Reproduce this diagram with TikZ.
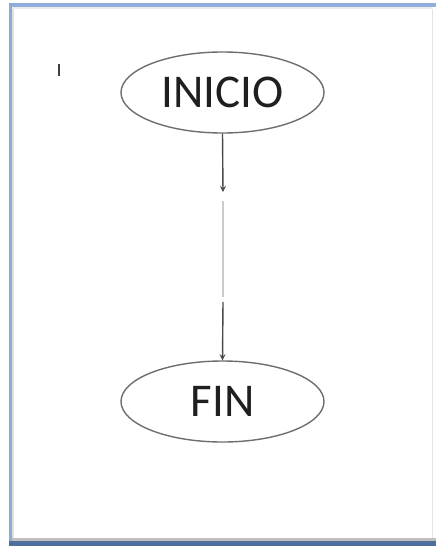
\documentclass[tikz,border=0pt]{standalone}
\usepackage{fontspec}
\setmainfont{Carlito}
\usetikzlibrary{shapes.geometric,arrows.meta}
\definecolor{frameTop}{HTML}{8FAEDC}
\definecolor{frameLeft}{HTML}{8CABD8}
\definecolor{frameBottom}{HTML}{4D6E9E}
\definecolor{edgeGray}{HTML}{6E6E6E}
\definecolor{wireDark}{HTML}{4A4A4A}
\definecolor{wireLight}{HTML}{CCCCCC}
\tikzset{
  terminal/.style={ellipse, draw=edgeGray, line width=1.4pt, fill=white,
    minimum width=203pt, minimum height=81pt, inner sep=0pt,
    font=\fontsize{47}{47}\selectfont, text=black!88},
  flowarrow/.style={draw=wireDark, line width=1.4pt,
    -{Stealth[length=6pt,width=6pt]}},
  faintwire/.style={draw=wireLight, line width=1.2pt}
}
\begin{document}
\begin{tikzpicture}[x=1pt,y=-1pt]
  % page area
  \fill[white] (0,0) rectangle (436,546);
  \useasboundingbox (0,0) rectangle (436,546);
  % window frame around the sheet
  \fill[frameTop] (9,3) rectangle (436,7);
  \fill[frameLeft] (9,3) rectangle (12,546);
  \fill[frameBottom] (9,541) rectangle (436,546);
  \fill[white] (12,7) rectangle (432,541);
  % inner shading of the sheet
  \fill[black!12] (12,7) rectangle (14,540);
  \fill[black!8] (12,7) rectangle (432,9);
  \fill[black!25] (12,538) rectangle (436,541);
  \draw[black!10, line width=0.8pt] (432.5,9) -- (432.5,538);
  % small stray mark
  \draw[black!75, line width=2.8pt] (59,64) -- (59,76);

  % flowchart terminals
  \node[terminal] (inicio) at (222.5,92.5) {INICIO};
  \node[terminal] (fin) at (222.5,401.5) {FIN};

  % connector, drawn in three pieces
  \coordinate (tipA) at (223,192);
  \coordinate (gapA) at (223,201);
  \coordinate (gapB) at (223,297);
  \coordinate (startB) at (223,302);
  \draw[flowarrow] (inicio.south) -- (tipA);
  \draw[faintwire] (gapA) -- (gapB);
  \draw[flowarrow] (startB) -- (fin.north);
\end{tikzpicture}
\end{document}
